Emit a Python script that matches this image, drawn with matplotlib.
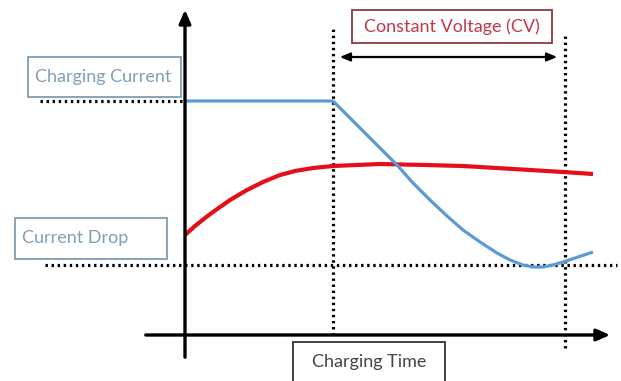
import matplotlib
matplotlib.use("Agg")
import matplotlib.pyplot as plt
from matplotlib.patches import Rectangle

# Data (time in arbitrary units from origin, value in arbitrary units)
time_current = [0, 148, 180, 212, 228, 245, 262, 278, 295, 312, 325, 338, 348, 358, 368, 378, 393, 408]
current = [234, 234, 202, 170, 152, 135, 119, 105, 93, 82, 75, 70, 68, 68, 70, 73, 78, 83]
time_voltage = [0, 10, 20, 28, 45, 62, 78, 95, 110, 128, 148, 195, 240, 278, 345, 378, 408]
voltage = [100, 109, 117, 123, 135, 145, 153, 160, 164, 167, 169, 171, 170, 169, 165, 163, 161]
cv_start, cv_end = 148, 380
level_charge, level_drop = 234, 70
labels = {"charge": "Charging Current", "drop": "Current Drop",
          "cv": "Constant Voltage (CV)", "time": "Charging Time"}

plt.rcParams['font.family'] = ['Lato', 'DejaVu Sans']
fig = plt.figure(figsize=(6.21, 3.81), dpi=100)
ax = fig.add_axes([0, 0, 1, 1])
ax.set_xlim(-185, 436)
ax.set_ylim(-46, 335)
ax.axis('off')

dot = dict(color='black', lw=2.3, linestyle=(0, (0.75, 1.15)), dash_capstyle='butt')

# axes with arrows
ax.annotate('', xy=(0, 328), xytext=(0, -25),
            arrowprops=dict(arrowstyle='-|>,head_width=0.35,head_length=0.8', lw=2.4, color='black'))
ax.annotate('', xy=(428, 0), xytext=(-42, 0),
            arrowprops=dict(arrowstyle='-|>,head_width=0.35,head_length=0.8', lw=2.4, color='black'))

# dotted reference lines
ax.plot([-145, 0], [level_charge, level_charge], **dot)
ax.plot([-140, 432], [level_drop, level_drop], **dot)
ax.plot([cv_start, cv_start], [0, 309], **dot)
ax.plot([cv_end, cv_end], [-13, 300], **dot)

# curves
ax.plot(time_voltage, voltage, color='#e3101a', lw=3.0, solid_capstyle='butt', solid_joinstyle='round')
ax.plot(time_current, current, color='#5b9bd5', lw=2.3, solid_capstyle='butt', solid_joinstyle='round')

# CV double arrow
ax.annotate('', xy=(cv_end - 5, 278), xytext=(cv_start + 4, 278),
            arrowprops=dict(arrowstyle='<|-|>,head_width=0.25,head_length=0.6', lw=1.6, color='black'))

def box(x0, y0, w, h, ecolor):
    ax.add_patch(Rectangle((x0, y0), w, h, facecolor='white', edgecolor=ecolor, lw=1.3, zorder=3))

box(-157, 238, 153, 40, '#7f9db0')
ax.text(-150, 258, labels["charge"], color='#7f9fb8', fontsize=13, ha='left', va='center', zorder=4)
box(-170, 76, 152, 41, '#7f9db0')
ax.text(-163, 97, labels["drop"], color='#7f9fb8', fontsize=13, ha='left', va='center', zorder=4)
box(167, 292, 200, 33, '#8b3a3a')
ax.text(267, 308, labels["cv"], color='#c0394a', fontsize=13, ha='center', va='center', zorder=4)
box(108, -60, 152, 53, '#333333')
ax.text(184, -27, labels["time"], color='#444444', fontsize=13, ha='center', va='center', zorder=4)

fig.savefig('out.png', dpi=100)
